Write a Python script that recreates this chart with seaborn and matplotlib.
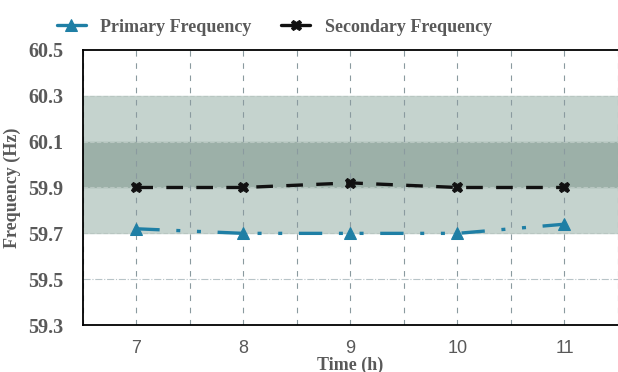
import seaborn as sns
import matplotlib.pyplot as plt
import pandas as pd

hours = [7, 8, 9, 10, 11]
primary = [59.72, 59.70, 59.70, 59.70, 59.74]
secondary = [59.90, 59.90, 59.92, 59.90, 59.90]
outer_band = (59.7, 60.3)
inner_band = (59.9, 60.1)
y_ticks = [59.3, 59.5, 59.7, 59.9, 60.1, 60.3, 60.5]

df = pd.DataFrame({"Time": hours, "Primary Frequency": primary,
                   "Secondary Frequency": secondary})

sns.set_style("white")
fig = plt.figure(figsize=(6.18, 3.72), dpi=100)
ax = fig.add_axes([0.134, 0.126, 0.866, 0.74])

gray = "#595959"
ax.axhspan(*outer_band, color="#c5d3ce", zorder=0)
ax.axhspan(*inner_band, color="#9cb0a8", zorder=0)
for y in [59.7, 59.9, 60.1, 60.3]:
    ax.axhline(y, color="#b8c6c1", lw=0.8, ls=(0, (4, 2)), zorder=0.5)
ax.axhline(59.5, color="#b8c4c8", lw=0.8, ls="-.", zorder=0.5)
for xv in [6.5, 7, 7.5, 8, 8.5, 9, 9.5, 10, 10.5, 11, 11.5]:
    ax.axvline(xv, color="#8a9a9f", lw=0.8, ls=(0, (5, 6)), zorder=0.6)

sns.lineplot(data=df, x="Time", y="Primary Frequency", ax=ax, color="#1f7fa5",
             lw=2.4, marker="^", markersize=8, markeredgecolor="#1f7fa5",
             label="Primary Frequency", zorder=3)
sns.lineplot(data=df, x="Time", y="Secondary Frequency", ax=ax, color="#111111",
             lw=2.4, marker="X", markersize=7.5, markeredgecolor="#111111",
             label="Secondary Frequency", zorder=3)
ax.lines[-2].set_dashes([7, 5, 1.2, 5, 1.2, 5])
ax.lines[-1].set_dashes([5, 4])

ax.set_xlim(6.5, 11.5)
ax.set_ylim(59.3, 60.5)
ax.set_xticks(hours)
ax.set_yticks(y_ticks)
ax.set_yticklabels([f"{v:.1f}" for v in y_ticks], family="Liberation Serif",
                   fontweight="bold", fontsize=14.5, color=gray)
ax.set_xticklabels([str(h) for h in hours], family="Liberation Sans",
                   fontsize=13, color=gray)
ax.tick_params(axis="x", length=0, pad=11)
ax.tick_params(axis="y", length=0, pad=14)
ax.set_xlabel("Time (h)", family="Liberation Serif", fontweight="bold",
              fontsize=13, color=gray)
ax.xaxis.set_label_coords(0.5, -0.113)
ax.set_ylabel("Frequency (Hz)", family="Liberation Serif", fontweight="bold",
              fontsize=13, color=gray)
ax.yaxis.set_label_coords(-0.115, 0.5)
for s in ["left", "bottom", "top"]:
    ax.spines[s].set_color("black")
    ax.spines[s].set_linewidth(1.3)
ax.spines["right"].set_visible(False)

leg = ax.legend(loc="lower left", bbox_to_anchor=(-0.062, 1.025), ncol=2, frameon=False,
                prop={"family": "Liberation Serif", "weight": "bold", "size": 13},
                labelcolor=gray, handlelength=1.6, handletextpad=0.8,
                columnspacing=1.65, borderaxespad=0.0)
for h in leg.get_lines():
    h.set_linestyle("-")

fig.savefig("out.png", dpi=100)
